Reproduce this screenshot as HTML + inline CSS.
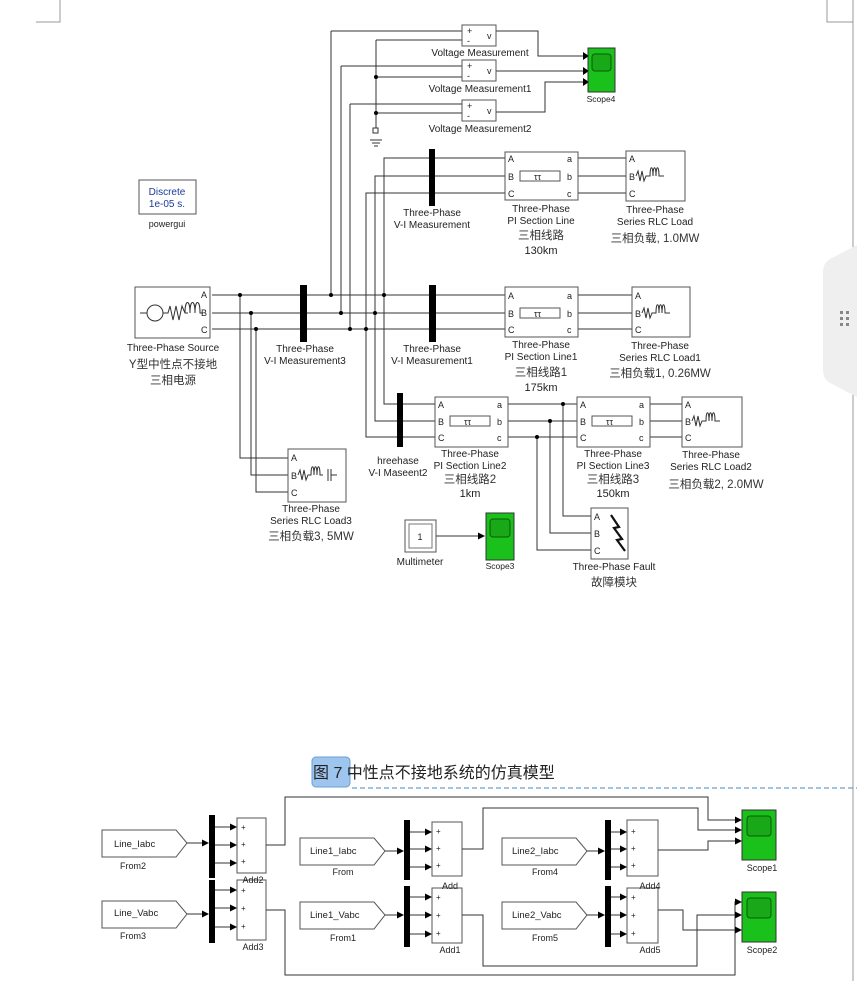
<!DOCTYPE html>
<html><head><meta charset="utf-8"><style>
html,body{margin:0;padding:0;background:#fff;}
svg{display:block;font-family:"Liberation Sans","Noto Sans CJK SC",sans-serif;}
.t{font-size:10px;fill:#222;text-anchor:middle}
.c{font-size:11.5px;fill:#333;text-anchor:middle}
.p{font-size:9px;fill:#222}
</style></head><body>
<svg width="857" height="981" viewBox="0 0 857 981" xmlns="http://www.w3.org/2000/svg">
<defs><marker id="ar" markerWidth="7" markerHeight="7" refX="6" refY="3.5" orient="auto"><path d="M0,0 L7,3.5 L0,7z" fill="#000"/></marker></defs>
<g stroke="#999" fill="none"><path d="M60,0V22H36"/><path d="M827,0V22H853"/><path d="M853,0V981"/></g>
<path d="M857,245 L832,258 Q823,262 823,272 V370 Q823,380 832,384 L857,397Z" fill="#efefef"/>
<g fill="#888"><rect x="840" y="311" width="3" height="3"/><rect x="846" y="311" width="3" height="3"/><rect x="840" y="317" width="3" height="3"/><rect x="846" y="317" width="3" height="3"/><rect x="840" y="323" width="3" height="3"/><rect x="846" y="323" width="3" height="3"/></g>

<!-- powergui -->
<rect x="139" y="180" width="57" height="34" fill="#fff" stroke="#555"/>
<text x="167" y="195" class="t" style="fill:#1a3a9a">Discrete</text>
<text x="167" y="207" class="t" style="fill:#1a3a9a">1e-05 s.</text>
<text x="167" y="227" class="t" style="font-size:9px">powergui</text>

<g stroke="#333" fill="none" stroke-width="1">
<path d="M331,31H462M331,31V295"/>
<path d="M341,66H462M341,66V313"/>
<path d="M350,104H462M350,104V329"/>
<path d="M376,40H462M376,40V130M376,77H462M376,113H462"/>
<path d="M370,140H382M372,143H380M374,146H378"/>
<path d="M496,31H538V56H585"/>
<path d="M496,71H585"/>
<path d="M496,112H545V82H585"/>
<path d="M212,295H505M212,313H505M212,329H505"/>
<path d="M578,295H632M578,313H632M578,329H632"/>
<path d="M240,295V458H288M251,313V475H288M256,329V492H288"/>
<path d="M384,295V158H505M375,313V176H505M366,329V193H505"/>
<path d="M578,158H626M578,176H626M578,193H626"/>
<path d="M384,295V404H435M375,313V421H435M366,329V437H435"/>
<path d="M508,404H577M508,421H577M508,437H577"/>
<path d="M650,404H682M650,421H682M650,437H682"/>
<path d="M563,404V516H591M550,421V533H591M537,437V550H591"/>
<path d="M436,536H484" marker-end="url(#ar)"/>
</g>
<g fill="#000"><path d="M583,52l6,4-6,4zM583,67l6,4-6,4zM583,78l6,4-6,4z"/>
<circle cx="376" cy="77" r="2"/><circle cx="376" cy="113" r="2"/>
<circle cx="240" cy="295" r="2"/><circle cx="251" cy="313" r="2"/><circle cx="256" cy="329" r="2"/>
<circle cx="331" cy="295" r="2"/><circle cx="341" cy="313" r="2"/><circle cx="350" cy="329" r="2"/>
<circle cx="384" cy="295" r="2"/><circle cx="375" cy="313" r="2"/><circle cx="366" cy="329" r="2"/>
<circle cx="563" cy="404" r="2"/><circle cx="550" cy="421" r="2"/><circle cx="537" cy="437" r="2"/>
<rect x="373" y="128" width="5" height="5" fill="#fff" stroke="#333"/>
</g>

<g fill="#fff" stroke="#555"><rect x="462" y="25" width="34" height="21"/><rect x="462" y="60" width="34" height="21"/><rect x="462" y="100" width="34" height="21"/></g>
<g class="p"><text x="467" y="34">+</text><text x="467" y="44">-</text><text x="487" y="39">v</text>
<text x="467" y="69">+</text><text x="467" y="79">-</text><text x="487" y="74">v</text>
<text x="467" y="109">+</text><text x="467" y="119">-</text><text x="487" y="114">v</text></g>
<text x="480" y="56" class="t">Voltage Measurement</text>
<text x="480" y="92" class="t">Voltage Measurement1</text>
<text x="480" y="132" class="t">Voltage Measurement2</text>
<rect x="588" y="48" width="27" height="44" fill="#1bc11b" stroke="#333"/>
<rect x="592" y="54" width="19" height="17" rx="3" fill="#18a818" stroke="#0a5a0a"/>
<text x="601" y="102" class="t" style="font-size:8.5px">Scope4</text>

<g fill="#000"><rect x="429" y="149" width="6" height="57"/><rect x="300" y="285" width="7" height="57"/><rect x="429" y="285" width="7" height="57"/><rect x="397" y="393" width="6" height="54"/></g>
<text x="432" y="216" class="t">Three-Phase</text><text x="432" y="228" class="t">V-I Measurement</text>
<text x="305" y="352" class="t">Three-Phase</text><text x="305" y="364" class="t">V-I Measurement3</text>
<text x="432" y="352" class="t">Three-Phase</text><text x="432" y="364" class="t">V-I Measurement1</text>
<text x="398" y="464" class="t">hreehase</text><text x="398" y="476" class="t">V-I Maseent2</text>

<rect x="135" y="287" width="75" height="51" fill="#fff" stroke="#555"/>
<circle cx="155" cy="313" r="8" fill="none" stroke="#333"/>
<path d="M140,313H147M163,313H168l2,-7 3,14 3,-14 3,14 3,-14 3,7h3M185,313c0,-14 5,-14 5,0c0,-14 5,-14 5,0c0,-14 5,-14 5,0h3" fill="none" stroke="#333"/>
<g class="p"><text x="201" y="298">A</text><text x="201" y="316">B</text><text x="201" y="333">C</text></g>
<text x="173" y="351" class="t">Three-Phase Source</text>
<text x="173" y="368" class="c">Y型中性点不接地</text>
<text x="173" y="384" class="c">三相电源</text>

<g fill="#fff" stroke="#555"><rect x="505" y="152" width="73" height="48"/><rect x="505" y="287" width="73" height="50"/><rect x="435" y="397" width="73" height="50"/><rect x="577" y="397" width="73" height="50"/>
<rect x="520" y="171" width="40" height="10"/><rect x="520" y="308" width="40" height="10"/><rect x="450" y="416" width="40" height="10"/><rect x="592" y="416" width="40" height="10"/></g>
<g class="p">
<text x="508" y="162">A</text><text x="508" y="180">B</text><text x="508" y="197">C</text><text x="567" y="162">a</text><text x="567" y="180">b</text><text x="567" y="197">c</text><text x="534" y="180">ττ</text>
<text x="508" y="299">A</text><text x="508" y="317">B</text><text x="508" y="333">C</text><text x="567" y="299">a</text><text x="567" y="317">b</text><text x="567" y="333">c</text><text x="534" y="317">ττ</text>
<text x="438" y="408">A</text><text x="438" y="425">B</text><text x="438" y="441">C</text><text x="497" y="408">a</text><text x="497" y="425">b</text><text x="497" y="441">c</text><text x="464" y="425">ττ</text>
<text x="580" y="408">A</text><text x="580" y="425">B</text><text x="580" y="441">C</text><text x="639" y="408">a</text><text x="639" y="425">b</text><text x="639" y="441">c</text><text x="606" y="425">ττ</text>
</g>
<text x="541" y="212" class="t">Three-Phase</text><text x="541" y="224" class="t">PI Section Line</text><text x="541" y="239" class="c">三相线路</text><text x="541" y="254" class="t" style="font-size:11px">130km</text>
<text x="541" y="348" class="t">Three-Phase</text><text x="541" y="360" class="t">PI Section Line1</text><text x="541" y="376" class="c">三相线路1</text><text x="541" y="391" class="t" style="font-size:11px">175km</text>
<text x="470" y="457" class="t">Three-Phase</text><text x="470" y="469" class="t">PI Section Line2</text><text x="470" y="483" class="c">三相线路2</text><text x="470" y="497" class="t" style="font-size:11px">1km</text>
<text x="613" y="457" class="t">Three-Phase</text><text x="613" y="469" class="t">PI Section Line3</text><text x="613" y="483" class="c">三相线路3</text><text x="613" y="497" class="t" style="font-size:11px">150km</text>

<g fill="#fff" stroke="#555"><rect x="626" y="151" width="59" height="50"/><rect x="632" y="287" width="58" height="50"/><rect x="682" y="397" width="60" height="50"/><rect x="288" y="449" width="58" height="53"/></g>
<g class="p">
<text x="629" y="162">A</text><text x="629" y="180">B</text><text x="629" y="197">C</text>
<text x="635" y="299">A</text><text x="635" y="317">B</text><text x="635" y="333">C</text>
<text x="685" y="408">A</text><text x="685" y="425">B</text><text x="685" y="441">C</text>
<text x="291" y="461">A</text><text x="291" y="479">B</text><text x="291" y="496">C</text>
</g>
<g fill="none" stroke="#333"><path d="M636,176l2,-5 2,10 2,-10 2,10 2,-5h4c0,-11 3,-11 3,0c0,-11 3,-11 3,0c0,-11 3,-11 3,0h5"/>
<path d="M642,313l2,-5 2,10 2,-10 2,10 2,-5h4c0,-11 3,-11 3,0c0,-11 3,-11 3,0c0,-11 3,-11 3,0h5"/>
<path d="M692,421l2,-5 2,10 2,-10 2,10 2,-5h4c0,-11 3,-11 3,0c0,-11 3,-11 3,0c0,-11 3,-11 3,0h5"/>
<path d="M298,475l2,-5 2,10 2,-10 2,10 2,-5h3c0,-11 3,-11 3,0c0,-11 3,-11 3,0c0,-11 3,-11 3,0h3M328,469v12M331,469v12M331,475h6"/></g>
<text x="655" y="213" class="t">Three-Phase</text><text x="655" y="225" class="t">Series RLC Load</text><text x="655" y="242" class="c">三相负载, 1.0MW</text>
<text x="660" y="349" class="t">Three-Phase</text><text x="660" y="361" class="t">Series RLC Load1</text><text x="660" y="377" class="c">三相负载1, 0.26MW</text>
<text x="711" y="458" class="t">Three-Phase</text><text x="711" y="470" class="t">Series RLC Load2</text><text x="716" y="488" class="c">三相负载2, 2.0MW</text>
<text x="311" y="512" class="t">Three-Phase</text><text x="311" y="524" class="t">Series RLC Load3</text><text x="311" y="540" class="c">三相负载3, 5MW</text>

<rect x="591" y="508" width="37" height="51" fill="#fff" stroke="#555"/>
<g class="p"><text x="594" y="520">A</text><text x="594" y="537">B</text><text x="594" y="554">C</text></g>
<path d="M611,515 L619,527 L614,528 L622,539 L617,540 L625,551" fill="none" stroke="#111" stroke-width="2.2"/>
<text x="614" y="570" class="t">Three-Phase Fault</text><text x="614" y="586" class="c">故障模块</text>

<rect x="405" y="520" width="31" height="32" fill="#fff" stroke="#555"/><rect x="409" y="524" width="23" height="24" fill="none" stroke="#777"/>
<text x="420" y="540" class="p" text-anchor="middle">1</text>
<text x="420" y="565" class="t">Multimeter</text>
<rect x="486" y="513" width="28" height="47" fill="#1bc11b" stroke="#333"/>
<rect x="490" y="519" width="20" height="18" rx="3" fill="#18a818" stroke="#0a5a0a"/>
<text x="500" y="569" class="t" style="font-size:8.5px">Scope3</text>

<rect x="312" y="757" width="38" height="30" rx="4" fill="#9ec5ee" stroke="#6a9fd8"/>
<text x="313" y="778" style="font-size:16px;fill:#222">图 7 中性点不接地系统的仿真模型</text>
<path d="M352,788H857" stroke="#3a8dc8" stroke-dasharray="5,3"/>

<g fill="#fff" stroke="#555">
<path d="M102,830H176L187,843L176,857H102Z"/><path d="M102,901H176L187,914L176,928H102Z"/>
<path d="M300,838H374L385,851L374,865H300Z"/><path d="M300,902H374L385,915L374,929H300Z"/>
<path d="M502,838H576L587,851L576,865H502Z"/><path d="M502,902H576L587,915L576,929H502Z"/>
<rect x="237" y="818" width="29" height="55"/><rect x="237" y="880" width="29" height="60"/>
<rect x="432" y="822" width="30" height="54"/><rect x="432" y="888" width="30" height="55"/>
<rect x="627" y="820" width="31" height="56"/><rect x="627" y="888" width="31" height="55"/>
</g>
<g fill="#000"><rect x="209" y="815" width="6" height="63"/><rect x="209" y="880" width="6" height="63"/><rect x="404" y="820" width="6" height="60"/><rect x="404" y="886" width="6" height="61"/><rect x="605" y="820" width="6" height="60"/><rect x="605" y="886" width="6" height="61"/></g>
<g style="font-size:9.5px;fill:#222">
<text x="114" y="847">Line_Iabc</text><text x="114" y="916">Line_Vabc</text>
<text x="310" y="854">Line1_Iabc</text><text x="310" y="918">Line1_Vabc</text>
<text x="512" y="854">Line2_Iabc</text><text x="512" y="918">Line2_Vabc</text>
</g>
<g class="t" style="font-size:9px">
<text x="133" y="869">From2</text><text x="133" y="939">From3</text><text x="343" y="875">From</text><text x="343" y="941">From1</text>
<text x="545" y="875">From4</text><text x="545" y="941">From5</text>
<text x="253" y="883">Add2</text><text x="253" y="950">Add3</text><text x="450" y="889">Add</text><text x="450" y="953">Add1</text>
<text x="650" y="889">Add4</text><text x="650" y="953">Add5</text>
<text x="762" y="871">Scope1</text><text x="762" y="953">Scope2</text>
</g>
<g style="font-size:8px;fill:#222">
<text x="241" y="830">+</text><text x="241" y="847">+</text><text x="241" y="864">+</text>
<text x="241" y="893">+</text><text x="241" y="911">+</text><text x="241" y="929">+</text>
<text x="436" y="834">+</text><text x="436" y="851">+</text><text x="436" y="868">+</text>
<text x="436" y="900">+</text><text x="436" y="918">+</text><text x="436" y="936">+</text>
<text x="631" y="834">+</text><text x="631" y="851">+</text><text x="631" y="868">+</text>
<text x="631" y="900">+</text><text x="631" y="918">+</text><text x="631" y="936">+</text>
</g>
<g stroke="#333" fill="none" marker-end="url(#ar)">
<path d="M187,843H208"/><path d="M187,914H208"/><path d="M385,851H403"/><path d="M385,915H403"/><path d="M587,851H604"/><path d="M587,915H604"/>
<path d="M215,827H236"/><path d="M215,845H236"/><path d="M215,863H236"/>
<path d="M215,890H236"/><path d="M215,908H236"/><path d="M215,927H236"/>
<path d="M410,832H431"/><path d="M410,849H431"/><path d="M410,867H431"/>
<path d="M410,897H431"/><path d="M410,915H431"/><path d="M410,934H431"/>
<path d="M611,832H626"/><path d="M611,849H626"/><path d="M611,867H626"/>
<path d="M611,897H626"/><path d="M611,915H626"/><path d="M611,934H626"/>
<path d="M266,845H285V797H708V820H741"/>
<path d="M462,849H483V808H698V830H741"/>
<path d="M658,850H708V841H741"/>
<path d="M266,910H285V975H735V902H741"/>
<path d="M462,915H483V966H697V915H741"/>
<path d="M658,910H683V930H741"/>
</g>
<path d="M742,846l5,6 -5,6" stroke="#000" fill="none" stroke-width="1.5"/>
<rect x="742" y="810" width="34" height="50" fill="#1bc11b" stroke="#333"/>
<rect x="747" y="816" width="24" height="20" rx="3" fill="#18a818" stroke="#0a5a0a"/>
<rect x="742" y="892" width="34" height="50" fill="#1bc11b" stroke="#333"/>
<rect x="747" y="898" width="24" height="20" rx="3" fill="#18a818" stroke="#0a5a0a"/>
</svg>
</body></html>
